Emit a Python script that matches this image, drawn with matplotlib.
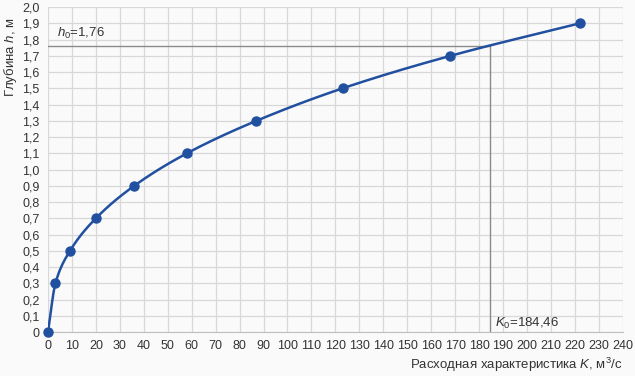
import numpy as np
import matplotlib.pyplot as plt
from matplotlib.ticker import FuncFormatter

plt.rcParams['font.family'] = ['Liberation Sans', 'DejaVu Sans']
plt.rcParams['mathtext.fontset'] = 'custom'
plt.rcParams['mathtext.rm'] = 'Liberation Sans'
plt.rcParams['mathtext.it'] = 'Liberation Sans:italic'

# data
K = [0, 3.1, 9.2, 20, 36, 58, 87, 123, 168, 222]
h = [0, 0.3, 0.5, 0.7, 0.9, 1.1, 1.3, 1.5, 1.7, 1.9]
K0 = 184.46
h0 = 1.76


def pchip(x, y, xs):
    # monotone cubic through the points, just for drawing the smooth line
    x = np.asarray(x, float)
    y = np.asarray(y, float)
    dx = np.diff(x)
    d = np.diff(y) / dx
    m = np.zeros_like(y)
    for i in range(1, len(x) - 1):
        if d[i - 1] * d[i] > 0:
            w1 = 2 * dx[i] + dx[i - 1]
            w2 = dx[i] + 2 * dx[i - 1]
            m[i] = (w1 + w2) / (w1 / d[i - 1] + w2 / d[i])
    m[0] = d[0]
    m[-1] = d[-1]
    idx = np.clip(np.searchsorted(x, xs) - 1, 0, len(x) - 2)
    t = (xs - x[idx]) / dx[idx]
    h00 = 2 * t**3 - 3 * t**2 + 1
    h10 = t**3 - 2 * t**2 + t
    h01 = -2 * t**3 + 3 * t**2
    h11 = t**3 - t**2
    return h00 * y[idx] + h10 * dx[idx] * m[idx] + h01 * y[idx + 1] + h11 * dx[idx] * m[idx + 1]


fig = plt.figure(figsize=(6.35, 3.76), dpi=100, facecolor='#fafafa')
ax = fig.add_axes([0.0756, 0.117, 0.905, 0.864])
ax.set_facecolor('#fafafa')

xs = np.linspace(K[0], K[-1], 400)
ax.plot(xs, pchip(K, h, xs), color='#2150a0', lw=1.8, zorder=3)
ax.plot(K, h, 'o', color='#2150a0', ms=6.5, zorder=4, clip_on=False)

ax.plot([0, K0], [h0, h0], color='#8a8a8a', lw=1.0, zorder=2)
ax.plot([K0, K0], [0, h0], color='#8a8a8a', lw=1.0, zorder=2)

ax.text(3.8, 1.84, '$h_0$=1,76', fontsize=9.5, color='#333333', va='center')
ax.text(186.6, 0.055, '$K_0$=184,46', fontsize=9.5, color='#333333', va='center')

ax.set_xlim(0, 240)
ax.set_ylim(0, 2.0)
ax.set_xticks(np.arange(0, 241, 10))
ax.set_yticks(np.arange(0, 2.01, 0.1))
ax.yaxis.set_major_formatter(FuncFormatter(lambda v, p: '0' if abs(v) < 1e-9 else f'{v:.1f}'.replace('.', ',')))
ax.grid(True, color='#d8d8d8', lw=0.9)
ax.set_axisbelow(True)
ax.tick_params(length=0, labelsize=9, colors='#333333', pad=6)
for s in ['top', 'right', 'left']:
    ax.spines[s].set_visible(False)
ax.spines['bottom'].set_color('#c0c0c0')

fig.text(0.016, 0.848, 'Глубина $h$, м', rotation=90, ha='center', va='center',
         fontsize=9.5, color='#333333')
fig.text(0.981, 0.029, 'Расходная характеристика $K$, м$^3$/с', ha='right', va='center',
         fontsize=9.5, color='#333333')

fig.savefig('out.png', dpi=100, facecolor=fig.get_facecolor())
